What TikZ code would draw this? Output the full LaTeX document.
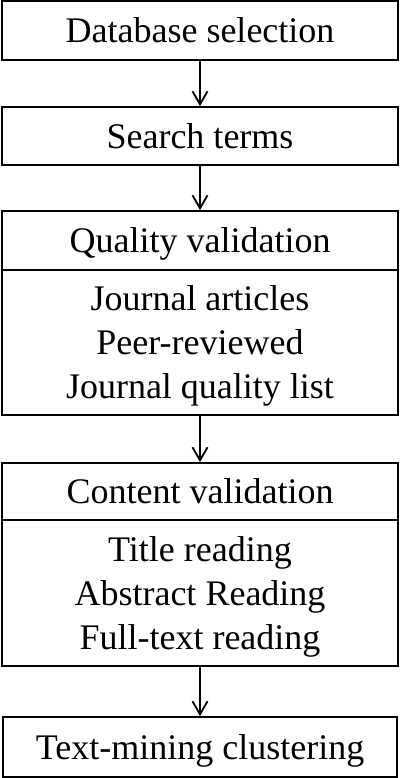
\documentclass[tikz,border=0pt]{standalone}
\usepackage{fontspec}
\setmainfont{Liberation Serif}
\usetikzlibrary{arrows.meta}
\begin{document}
\begin{tikzpicture}[x=1pt,y=1pt,
box/.style ={rectangle, draw=black, line width=1.8pt,
  minimum width=396pt, text centered, inner sep=0pt,
  text depth=0pt, font=\fontsize{36}{44}\selectfont
},
body/.style ={box, align=center},
arr/.style ={-{Straight Barb[length=13pt,width=15pt,line width=1.8pt]},
  line width=1.8pt
}]
\useasboundingbox (0,0) rectangle (400,-778);
\node (db) at (200,-30.5) [box, minimum height=59pt] {Database selection};
\node (search) at (200,-136) [box, minimum height=58pt] {Search terms};
\node (qual) at (200,-240.5) [box, minimum height=59pt] {Quality validation};
\node (qualbody) at (200,-342.5) [body, minimum height=145pt]
  {Journal articles\\Peer-reviewed\\Journal quality list};
\node (content) at (200,-491.5) [box, minimum height=57pt] {Content validation};
\node (contentbody) at (200,-593) [body, minimum height=146pt]
  {Title reading\\Abstract Reading\\Full-text reading};
\node (mining) at (200,-747) [box, minimum height=60pt, minimum width=394pt]
  {Text-mining clustering};
\draw[arr] (db) -- (search);
\draw[arr] (search) -- (qual);
\draw[arr] (qualbody) -- (content);
\draw[arr] (contentbody) -- (mining);
\end{tikzpicture}
\end{document}
